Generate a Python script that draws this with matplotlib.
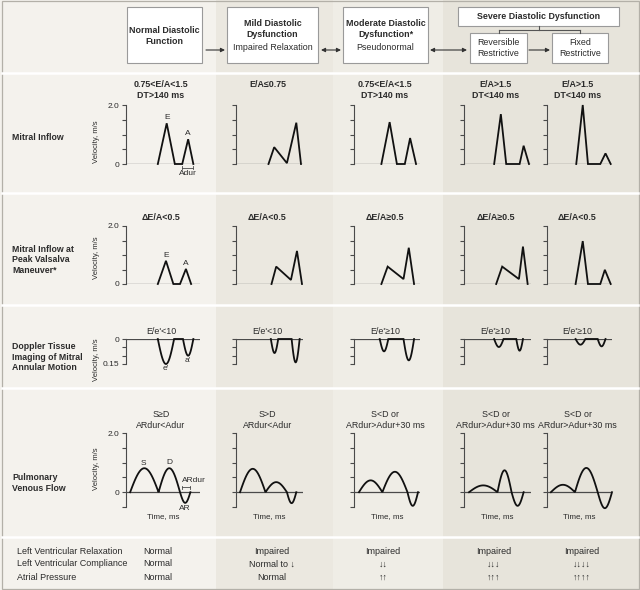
import numpy as np
import matplotlib
matplotlib.use("Agg")
import matplotlib.pyplot as plt
from matplotlib.patches import Rectangle

plt.rcParams['font.family'] = ['Liberation Sans', 'DejaVu Sans']

W, H = 640, 590
TXT = '#2b2b2b'
AX = '#4a4a4a'

# ---- data ----
stages = ['Normal', 'Mild', 'Moderate', 'Reversible', 'Fixed']

# mitral inflow (time in % of axis width, velocity m/s)
mi_t = [[43, 55, 66, 76, 84, 91],
        [48.5, 57, 76, 90, 97],
        [41.5, 54, 65, 77, 85, 94],
        [45, 55, 63, 83, 89, 97],
        [45, 55, 63, 82, 90, 98]]
mi_v = [[0, 1.38, 0, 0, 0.84, 0],
        [0, 0.57, 0.03, 1.40, 0],
        [0, 1.42, 0, 0, 0.88, 0],
        [0, 1.69, 0, 0, 0.62, 0],
        [0, 2.00, 0, 0, 0.36, 0]]
mi_titles = ['0.75<E/A<1.5\nDT>140 ms', 'E/A\u22640.75', '0.75<E/A<1.5\nDT>140 ms',
             'E/A>1.5\nDT<140 ms', 'E/A>1.5\nDT<140 ms']

# mitral inflow at peak valsalva
va_t = [[43, 54, 64, 73, 81, 88],
        [53, 60, 82, 91, 98.5],
        [41.5, 51, 75, 83, 91],
        [48, 57, 82, 88, 95],
        [44, 55, 63, 82, 89, 98]]
va_v = [[0, 0.80, 0, 0, 0.52, 0],
        [0, 0.60, 0.14, 1.14, 0],
        [0, 0.60, 0.17, 1.25, 0],
        [0, 0.60, 0.17, 1.29, 0],
        [0, 1.48, 0, 0, 0.49, 0]]
va_titles = ['\u0394E/A<0.5', '\u0394E/A<0.5', '\u0394E/A\u22650.5',
             '\u0394E/A\u22650.5', '\u0394E/A<0.5']

# doppler tissue imaging: lobes (start %, end %, velocity m/s)
dti_lobes = [[(43, 65, -0.150), (77, 91, -0.100)],
             [(52, 63, -0.084), (83, 95, -0.140)],
             [(39, 52, -0.074), (75, 91, -0.128)],
             [(45, 59, -0.048), (78, 88, -0.070)],
             [(44, 59, -0.034), (78, 90, -0.044)]]
dti_titles = ["E/e'<10", "E/e'<10", "E/e'\u226510", "E/e'\u226510", "E/e'\u226510"]

# pulmonary venous flow: S, D, AR lobes
pv_lobes = [[(5.6, 44, 0.81), (44, 73, 0.81), (73, 87, -0.36)],
            [(6, 44, 0.79), (44, 76, 0.34), (76, 90, -0.37)],
            [(7.5, 43, 0.40), (43, 81, 0.69), (81, 97, -0.46)],
            [(7.5, 50, 0.23), (50, 71, 0.74), (71, 89, -0.46)],
            [(6, 43, 0.25), (43, 78, 0.82), (78, 100, -0.54)]]
pv_titles = ['S\u2265D\nARdur<Adur', 'S>D\nARdur<Adur', 'S<D or\nARdur>Adur+30 ms',
             'S<D or\nARdur>Adur+30 ms', 'S<D or\nARdur>Adur+30 ms']

row_labels = ['Mitral Inflow', 'Mitral Inflow at\nPeak Valsalva\nManeuver*',
              'Doppler Tissue\nImaging of Mitral\nAnnular Motion', 'Pulmonary\nVenous Flow']

tbl_rows = ['Left Ventricular Relaxation', 'Left Ventricular Compliance', 'Atrial Pressure']
tbl_vals = [['Normal', 'Normal', 'Normal'],
            ['Impaired', 'Normal to \u2193', 'Normal'],
            ['Impaired', '\u2193\u2193', '\u2191\u2191'],
            ['Impaired', '\u2193\u2193\u2193', '\u2191\u2191\u2191'],
            ['Impaired', '\u2193\u2193\u2193\u2193', '\u2191\u2191\u2191\u2191']]

# ---- layout (pixels) ----
col_x = [(126, 200), (236, 303), (354, 420), (464, 531), (547, 612)]
col_bg = [(0, 216, '#f4f2ed'), (216, 333, '#ebe8e0'), (333, 443, '#efede6'), (443, 640, '#e7e4db')]
seps = [73, 193, 305, 388, 537]

fig = plt.figure(figsize=(6.4, 5.9), dpi=100)
bg = fig.add_axes([0, 0, 1, 1])
bg.set_xlim(0, W)
bg.set_ylim(H, 0)
bg.axis('off')

for x0, x1, c in col_bg:
    bg.add_patch(Rectangle((x0, 0), x1 - x0, H, color=c, lw=0))
for y in seps:
    bg.plot([2, 638], [y, y], color='white', lw=1.8)
bg.add_patch(Rectangle((1.5, 0.5), 637, 588, fill=False, ec='#b3b0a8', lw=0.9))

# header boxes
def box(x0, x1, y0, y1):
    bg.add_patch(Rectangle((x0, y0), x1 - x0, y1 - y0, fc='white', ec='#9a9a9a', lw=0.8))

fs = 6.4
box(127, 202, 7, 63)
bg.text(164.5, 36, 'Normal Diastolic\nFunction', ha='center', va='center', fontsize=fs,
        fontweight='bold', color=TXT, linespacing=1.3)
box(227, 318, 7, 63)
bg.text(272.5, 29, 'Mild Diastolic\nDysfunction', ha='center', va='center', fontsize=fs,
        fontweight='bold', color=TXT, linespacing=1.3)
bg.text(272.5, 48, 'Impaired Relaxation', ha='center', va='center', fontsize=fs, color=TXT)
box(343, 428, 7, 63)
bg.text(385.5, 29, 'Moderate Diastolic\nDysfunction*', ha='center', va='center', fontsize=fs,
        fontweight='bold', color=TXT, linespacing=1.3)
bg.text(385.5, 48, 'Pseudonormal', ha='center', va='center', fontsize=fs, color=TXT)
box(458, 619, 7, 26)
bg.text(538.5, 16.5, 'Severe Diastolic Dysfunction', ha='center', va='center', fontsize=fs,
        fontweight='bold', color=TXT)
box(470, 527, 33, 63)
bg.text(498.5, 48, 'Reversible\nRestrictive', ha='center', va='center', fontsize=fs,
        color=TXT, linespacing=1.3)
box(552, 608, 33, 63)
bg.text(580, 48, 'Fixed\nRestrictive', ha='center', va='center', fontsize=fs,
        color=TXT, linespacing=1.3)
bg.plot([538.5, 538.5], [26, 30], color='#555', lw=0.8)
bg.plot([498.5, 580], [30, 30], color='#555', lw=0.8)
bg.plot([498.5, 498.5], [30, 33], color='#555', lw=0.8)
bg.plot([580, 580], [30, 33], color='#555', lw=0.8)

arrows = [(206, 225, False), (321, 341, True), (430, 467, True), (529, 550, False)]
for a0, a1, both in arrows:
    style = '<|-|>' if both else '-|>'
    bg.annotate('', xy=(a1, 50), xytext=(a0, 50),
                arrowprops=dict(arrowstyle=style, color='#333', lw=0.8,
                                mutation_scale=6, shrinkA=0, shrinkB=0))

# row labels
lab_y = [137, 260, 357, 483]
for y, s in zip(lab_y, row_labels):
    bg.text(12, y, s, ha='left', va='center', fontsize=6.3, fontweight='bold',
            color=TXT, linespacing=1.25)


def panel(x0, x1, ytop, ybot):
    ax = fig.add_axes([x0 / W, 1 - ybot / H, (x1 - x0) / W, (ybot - ytop) / H])
    ax.set_facecolor('none')
    for sp in ['top', 'right', 'bottom']:
        ax.spines[sp].set_visible(False)
    ax.spines['left'].set_color(AX)
    ax.spines['left'].set_linewidth(0.8)
    ax.set_xlim(0, 100)
    ax.set_xticks([])
    ax.tick_params(axis='y', direction='out', length=3, width=0.8, color=AX,
                   labelsize=6, labelcolor=TXT, pad=2)
    ax.axhline(0, color=AX, lw=0.9)
    return ax


def lobes_line(lobes):
    ts, vs = [], []
    for s, e, a in lobes:
        t = np.linspace(s, e, 40)
        ts.append(t)
        vs.append(a * np.sin(np.pi * (t - s) / (e - s)))
    return np.concatenate(ts), np.concatenate(vs)


def bracket(ax, t0, t1, y, h):
    ax.plot([t0, t1], [y, y], color=AX, lw=0.6, clip_on=False)
    ax.plot([t0, t0], [y - h, y + h], color=AX, lw=0.6, clip_on=False)
    ax.plot([t1, t1], [y - h, y + h], color=AX, lw=0.6, clip_on=False)


line_kw = dict(color='#111', lw=1.3, clip_on=False, solid_joinstyle='miter')

for i in range(5):
    x0, x1 = col_x[i]
    cx = (x0 + x1) / 2 - 2

    # row 1
    ax = panel(x0, x1, 105, 164)
    ax.set_ylim(0, 2)
    ax.set_yticks([0, 0.5, 1, 1.5, 2])
    ax.set_yticklabels(['0', '', '', '', '2.0'] if i == 0 else [])
    ax.plot(mi_t[i], mi_v[i], **line_kw)
    bg.text(cx, 80, mi_titles[i], ha='center', va='top', fontsize=6.4,
            fontweight='bold', color=TXT, linespacing=1.3)
    if i == 0:
        ax.text(55, 1.56, 'E', ha='center', va='center', fontsize=6, color=TXT)
        ax.text(84, 1.02, 'A', ha='center', va='center', fontsize=6, color=TXT)
        bracket(ax, 76, 91, -0.12, 0.05)
        ax.text(83.5, -0.32, 'Adur', ha='center', va='center', fontsize=6, color=TXT)

    # row 2
    ax = panel(x0, x1, 226, 284)
    ax.set_ylim(0, 2)
    ax.set_yticks([0, 0.5, 1, 1.5, 2])
    ax.set_yticklabels(['0', '', '', '', '2.0'] if i == 0 else [])
    ax.plot(va_t[i], va_v[i], **line_kw)
    bg.text(cx, 218, va_titles[i], ha='center', va='center', fontsize=6.4,
            fontweight='bold', color=TXT)
    if i == 0:
        ax.text(54, 0.97, 'E', ha='center', va='center', fontsize=6, color=TXT)
        ax.text(81, 0.69, 'A', ha='center', va='center', fontsize=6, color=TXT)

    # row 3
    ax = panel(x0, x1, 339, 364)
    ax.set_ylim(-0.15, 0)
    ax.set_yticks([0, -0.05, -0.1, -0.15])
    ax.set_yticklabels(['0', '', '', '0.15'] if i == 0 else [])
    t, v = lobes_line(dti_lobes[i])
    ax.plot(t, v, **line_kw)
    bg.text(cx, 332, dti_titles[i], ha='center', va='center', fontsize=6.4, color=TXT)
    if i == 0:
        ax.text(54, -0.175, "e'", ha='center', va='center', fontsize=6, color=TXT)
        ax.text(84, -0.13, "a'", ha='center', va='center', fontsize=6, color=TXT)

    # row 4
    ax = panel(x0, x1, 433, 507)
    ax.set_ylim(-0.5, 2)
    ax.set_yticks([-0.5, 0, 0.5, 1, 1.5, 2])
    ax.set_yticklabels(['', '0', '', '', '', '2.0'] if i == 0 else [])
    t, v = lobes_line(pv_lobes[i])
    ax.plot(t, v, **line_kw)
    bg.text(cx, 410, pv_titles[i], ha='center', va='top', fontsize=6.4, color=TXT,
            linespacing=1.3)
    bg.text((x0 + x1) / 2, 517, 'Time, ms', ha='center', va='center', fontsize=5.8, color=TXT)
    if i == 0:
        ax.text(24, 0.98, 'S', ha='center', va='center', fontsize=6, color=TXT)
        ax.text(58, 1.0, 'D', ha='center', va='center', fontsize=6, color=TXT)
        ax.text(80, -0.55, 'AR', ha='center', va='center', fontsize=6, color=TXT)
        bracket(ax, 75, 87, 0.17, 0.05)
        ax.text(92, 0.38, 'ARdur', ha='center', va='center', fontsize=6, color=TXT)

# velocity labels on normal column
for y in [142, 258, 360, 469]:
    bg.text(97, y, 'Velocity, m/s', rotation=90, ha='center', va='center',
            fontsize=5.5, color=TXT)

# bottom table
tbl_y = [551, 564, 577]
tbl_x = [143, 272, 383, 494, 582]
for r, y in enumerate(tbl_y):
    bg.text(17, y, tbl_rows[r], ha='left', va='center', fontsize=6.5, color=TXT)
    for c in range(5):
        ha = 'left' if c == 0 else 'center'
        bg.text(tbl_x[c], y, tbl_vals[c][r], ha=ha, va='center', fontsize=6.5, color=TXT)

fig.savefig('out.png', dpi=100)
